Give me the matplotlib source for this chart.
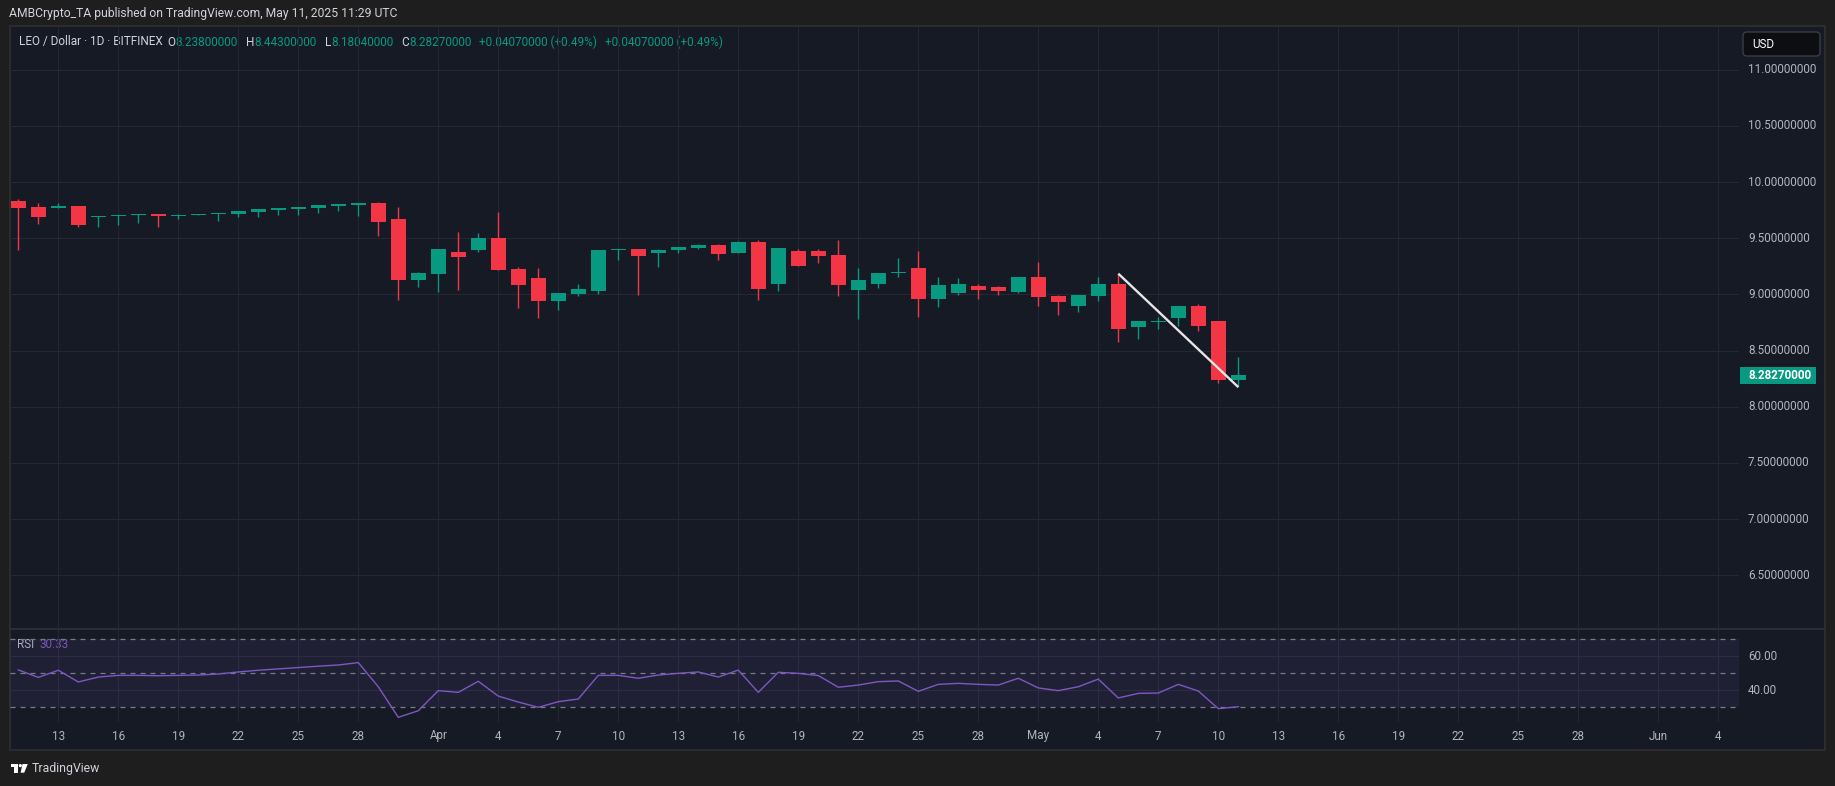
import matplotlib
matplotlib.use("Agg")
import matplotlib.pyplot as plt
import matplotlib.dates as mdates
import matplotlib.transforms as mtransforms
from matplotlib.patches import Rectangle, FancyBboxPatch, Circle, Polygon
import pandas as pd

plt.rcParams['font.family'] = ['Roboto', 'DejaVu Sans']

# ---------------- data ----------------
dates = pd.date_range("2025-03-11", "2025-05-11", freq="D")  # daily candles

open_ = [9.831, 9.777, 9.768, 9.786, 9.687, 9.696, 9.705, 9.714, 9.696, 9.708,
         9.714, 9.714, 9.733, 9.751, 9.760, 9.768, 9.786, 9.795, 9.813, 9.669,
         9.132, 9.185, 9.374, 9.392, 9.499, 9.230, 9.150, 8.944, 9.006, 9.033,
         9.392, 9.401, 9.365, 9.392, 9.410, 9.436, 9.365, 9.463, 9.096, 9.383,
         9.383, 9.347, 9.042, 9.096, 9.194, 9.239, 8.961, 9.015, 9.078, 9.069,
         9.024, 9.159, 8.988, 8.899, 8.988, 9.096, 8.711, 8.758, 8.791, 8.899,
         8.764, 8.238]
high = [9.849, 9.813, 9.813, 9.786, 9.696, 9.705, 9.714, 9.714, 9.714, 9.714,
        9.724, 9.742, 9.760, 9.768, 9.777, 9.795, 9.804, 9.813, 9.822, 9.777,
        9.203, 9.401, 9.553, 9.544, 9.732, 9.248, 9.239, 9.015, 9.096, 9.392,
        9.401, 9.401, 9.401, 9.418, 9.445, 9.445, 9.472, 9.481, 9.410, 9.401,
        9.401, 9.481, 9.239, 9.194, 9.320, 9.383, 9.159, 9.150, 9.096, 9.078,
        9.159, 9.293, 8.997, 8.997, 9.159, 9.185, 8.764, 8.800, 8.899, 8.917,
        8.764, 8.443]
low = [9.394, 9.627, 9.768, 9.598, 9.598, 9.616, 9.634, 9.598, 9.669, 9.705,
       9.652, 9.687, 9.687, 9.705, 9.705, 9.724, 9.742, 9.696, 9.517, 8.952,
       9.069, 9.024, 9.042, 9.374, 9.221, 8.881, 8.791, 8.863, 8.988, 9.006,
       9.302, 8.997, 9.248, 9.365, 9.401, 9.302, 9.365, 8.952, 9.033, 9.257,
       9.284, 8.988, 8.782, 9.060, 9.159, 8.800, 8.890, 8.997, 8.961, 8.997,
       9.015, 8.899, 8.818, 8.845, 8.944, 8.576, 8.603, 8.693, 8.720, 8.675,
       8.209, 8.1804]
close = [9.768, 9.687, 9.786, 9.616, 9.696, 9.705, 9.714, 9.696, 9.705, 9.714,
         9.724, 9.742, 9.760, 9.768, 9.777, 9.795, 9.804, 9.813, 9.643, 9.131,
         9.194, 9.401, 9.329, 9.499, 9.221, 9.087, 8.944, 9.015, 9.051, 9.392,
         9.401, 9.338, 9.392, 9.418, 9.436, 9.356, 9.463, 9.051, 9.410, 9.257,
         9.338, 9.087, 9.132, 9.194, 9.203, 8.961, 9.087, 9.096, 9.042, 9.033,
         9.159, 8.979, 8.935, 8.997, 9.096, 8.693, 8.764, 8.764, 8.899, 8.720,
         8.242, 8.2827]
rsi = [52.0, 47.6, 51.8, 44.9, 47.8, 48.8, 48.8, 48.6, 48.8, 49.0,
       49.6, 50.8, 51.8, 52.6, 53.4, 54.2, 54.9, 56.3, 42.1, 24.1,
       28.0, 39.8, 38.8, 45.3, 36.6, 33.1, 30.0, 33.3, 34.9, 48.8,
       48.8, 47.1, 49.0, 50.0, 50.8, 47.8, 51.9, 38.8, 50.6, 50.0,
       48.7, 41.8, 43.1, 45.1, 45.5, 39.4, 43.5, 44.1, 43.5, 43.1,
       47.1, 41.4, 39.8, 42.1, 46.6, 35.5, 38.2, 38.4, 43.5, 39.6,
       29.2, 30.33]

trend_dates = ["2025-05-05", "2025-05-11"]
trend_prices = [9.185, 8.175]

tick_dates = ["2025-03-13", "2025-03-16", "2025-03-19", "2025-03-22", "2025-03-25",
              "2025-03-28", "2025-04-01", "2025-04-04", "2025-04-07", "2025-04-10",
              "2025-04-13", "2025-04-16", "2025-04-19", "2025-04-22", "2025-04-25",
              "2025-04-28", "2025-05-01", "2025-05-04", "2025-05-07", "2025-05-10",
              "2025-05-13", "2025-05-16", "2025-05-19", "2025-05-22", "2025-05-25",
              "2025-05-28", "2025-06-01", "2025-06-04"]
tick_labels = ["13", "16", "19", "22", "25", "28", "Apr", "4", "7", "10", "13", "16",
               "19", "22", "25", "28", "May", "4", "7", "10", "13", "16", "19", "22",
               "25", "28", "Jun", "4"]
price_ticks = [6.5, 7.0, 7.5, 8.0, 8.5, 9.0, 9.5, 10.0, 10.5, 11.0]
rsi_ticks = [40, 60]

title_line = "AMBCrypto_TA published on TradingView.com, May 11, 2025 11:29 UTC"

# ---------------- style ----------------
W, H = 1835, 786
BG_OUT = '#1e1e1e'
BG = '#161a25'
GRID = '#242835'
TXT = '#d1d4dc'
AXT = '#b2b5be'
UP = '#089981'
DN = '#f23645'
PURPLE = '#7e57c2'
FS = 8.4

fig = plt.figure(figsize=(W / 100, H / 100), dpi=100, facecolor=BG_OUT)
ax_bg = fig.add_axes([0, 0, 1, 1])
ax_bg.set_xlim(0, W)
ax_bg.set_ylim(H, 0)
ax_bg.axis('off')
ax_bg.add_patch(Rectangle((10, 26), 1815, 724, facecolor=BG, edgecolor='#2c2c2c', lw=1.5))
ax_bg.plot([10, 1825], [629, 629], color='#2a2e39', lw=1.5)

pane_l, pane_r = 10, 1739
ax = fig.add_axes([pane_l / W, (H - 629) / H, (pane_r - pane_l) / W, (629 - 27) / H])
ax_r = fig.add_axes([pane_l / W, (H - 722) / H, (pane_r - pane_l) / W, (722 - 630) / H])

x = mdates.date2num(dates)
x0 = mdates.date2num(pd.Timestamp("2025-03-13"))
tx = mdates.date2num(pd.to_datetime(tick_dates))

for a in (ax, ax_r):
    a.set_facecolor('none')
    for s in a.spines.values():
        s.set_visible(False)
    a.set_xlim(x0 - 2.415, x0 + 84.035)
    a.set_xticks(tx)
    a.tick_params(length=0, labelbottom=False, labelleft=False)
    a.grid(True, color=GRID, lw=0.8)
    a.set_axisbelow(True)

ax.set_ylim(6.0224, 11.38)
ax.set_yticks(price_ticks)
ax_r.set_ylim(21.35, 75.5)
ax_r.set_yticks(rsi_ticks)

# candles
for xi, o, h, l, c in zip(x, open_, high, low, close):
    col = UP if c >= o else DN
    ax.vlines(xi, l, h, color=col, lw=1.0, zorder=3)
    ax.bar(xi, max(abs(c - o), 0.009), bottom=min(o, c), width=0.75,
           color=col, lw=0, zorder=4)

ax.plot(mdates.date2num(pd.to_datetime(trend_dates)), trend_prices,
        color='#e6e6e6', lw=1.7, zorder=5, solid_capstyle='butt')

# RSI pane
ax_r.axhspan(30, 70, color=PURPLE, alpha=0.1, lw=0)
for lvl in (70, 50, 30):
    ax_r.axhline(lvl, color='#787b86', lw=0.9, ls=(0, (4, 4)))
ax_r.plot(x, rsi, color=PURPLE, lw=1.0, zorder=4)

# price axis labels
tr_p = mtransforms.blended_transform_factory(ax_bg.transData, ax.transData)
for p in price_ticks:
    ax_bg.text(1748, p, f"{p:.8f}", transform=tr_p, color=AXT, fontsize=FS, va='center')
tr_r = mtransforms.blended_transform_factory(ax_bg.transData, ax_r.transData)
for v in rsi_ticks:
    ax_bg.text(1748, v, f"{v:.2f}", transform=tr_r, color=AXT, fontsize=FS, va='center')

# time axis labels
tr_t = mtransforms.blended_transform_factory(ax.transData, ax_bg.transData)
for t, lab in zip(tx, tick_labels):
    ax_bg.text(t, 736, lab, transform=tr_t, color=AXT, fontsize=FS, ha='center', va='center')

# last price tag
y_disp = ax.transData.transform((x0, close[-1]))[1]
y_tag = H - y_disp
ax_bg.add_patch(Rectangle((1740, y_tag - 8.5), 76, 17, facecolor=UP, lw=0))
ax_bg.text(1748, y_tag, f"{close[-1]:.8f}", color='white', fontsize=FS,
           fontweight='bold', va='center')

# USD button
ax_bg.add_patch(FancyBboxPatch((1743, 32), 77, 24, boxstyle="round,pad=0,rounding_size=4",
                               facecolor='#0d0e12', edgecolor='#3a3d45', lw=1))
ax_bg.text(1752, 44.5, "USD", color='white', fontsize=FS, va='center')

# sequential texts
renderer = fig.canvas.get_renderer()


def seq(xs, y, pieces, fs=FS, **kw):
    for s, c, gap in pieces:
        t = ax_bg.text(xs, y, s, color=c, va='center', fontsize=fs, **kw)
        bb = t.get_window_extent(renderer=renderer)
        xs += bb.width + gap
    return xs


ax_bg.text(9, 14, title_line, color=TXT, fontsize=8.7, va='center')

diff = close[-1] - close[-2]
chg = f"+{diff:.8f} (+{diff / close[-2] * 100:.2f}%)"
seq(19, 42, [("LEO / Dollar · 1D · BITFINEX", TXT, 5),
             ("O", TXT, 0), (f"{open_[-1]:.8f}", UP, 8),
             ("H", TXT, 0), (f"{high[-1]:.8f}", UP, 8),
             ("L", TXT, 0), (f"{low[-1]:.8f}", UP, 8),
             ("C", TXT, 0), (f"{close[-1]:.8f}", UP, 8),
             (chg, UP, 8), (chg, UP, 0)], fs=8.5)

seq(17, 645, [("RSI", AXT, 5), (f"{rsi[-1]:.2f}", PURPLE, 0)])

# footer logo + text
ax_bg.add_patch(Rectangle((10.5, 764), 7, 3, facecolor='white', lw=0))
ax_bg.add_patch(Rectangle((14, 764), 3.5, 8.7, facecolor='white', lw=0))
ax_bg.add_patch(Circle((20.3, 765.6), 1.6, facecolor='white', lw=0))
ax_bg.add_patch(Polygon([(22.5, 764), (27.8, 764), (24.2, 772.7), (20.6, 772.7)],
                        closed=True, facecolor='white', lw=0))
ax_bg.text(32, 768.5, "TradingView", color=TXT, fontsize=8.8, va='center')

fig.savefig("out.png", dpi=100, facecolor=BG_OUT)
